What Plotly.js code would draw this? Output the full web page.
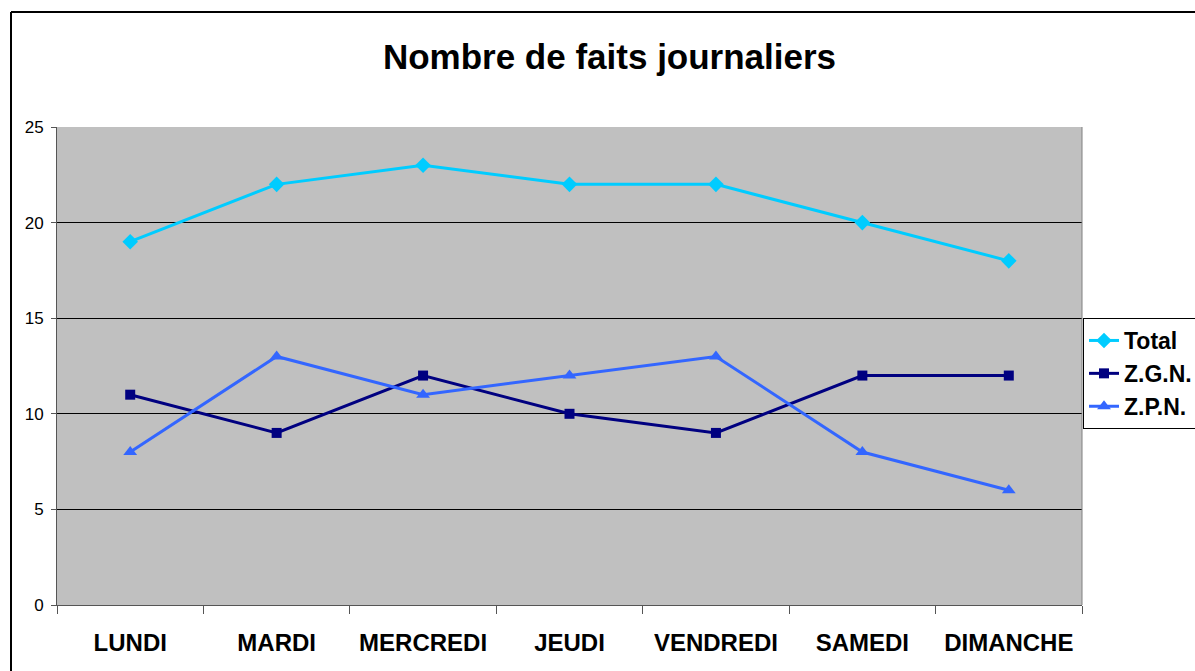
<!DOCTYPE html>
<html><head><meta charset="utf-8">
<script src="https://cdn.plot.ly/plotly-3.0.1.min.js"></script>
<style>html,body{margin:0;padding:0;background:#fff}#c{width:1195px;height:671px}</style>
</head><body><div id="c"></div>
<script>
const days = ["LUNDI","MARDI","MERCREDI","JEUDI","VENDREDI","SAMEDI","DIMANCHE"];
const total = [19,22,23,22,22,20,18];
const zgn = [11,9,12,10,9,12,12];
const zpn = [8,13,11,12,13,8,6];

const L = 57, R = 1082, T = 127, B = 605;
const pw = R - L, ph = B - T;
const px = v => (v - L) / pw;
const py = v => (B - v) / ph;

const traces = [
  {x: days, y: total, name: "Total", type: "scatter", mode: "lines+markers",
   line: {color: "#00CCFF", width: 3}, marker: {symbol: "diamond", size: 12, color: "#00CCFF"}},
  {x: days, y: zgn, name: "Z.G.N.", type: "scatter", mode: "lines+markers",
   line: {color: "#000080", width: 3}, marker: {symbol: "square", size: 10, color: "#000080"}},
  {x: days, y: zpn, name: "Z.P.N.", type: "scatter", mode: "lines+markers",
   line: {color: "#3366FF", width: 3}, marker: {symbol: "triangle-up", size: 12, color: "#3366FF"}}
];

const layout = {
  width: 1195, height: 671,
  margin: {l: L, r: 1195 - R, t: T, b: 671 - B, pad: 0, autoexpand: false},
  paper_bgcolor: "#ffffff", plot_bgcolor: "#C0C0C0",
  font: {family: "Liberation Sans, Arial, sans-serif", color: "#000"},
  title: {text: "<b>Nombre de faits journaliers</b>", x: px(609.5), xref: "paper", xanchor: "center",
          y: 1 - 57/671, yanchor: "middle", font: {size: 35, color: "#000"}},
  showlegend: true,
  legend: {x: px(1083), xanchor: "left", y: py(318), yanchor: "top",
           bordercolor: "#000", borderwidth: 1, bgcolor: "#fff",
           font: {size: 23, color: "#000", weight: "bold"}, itemwidth: 30},
  xaxis: {type: "category", range: [-0.5, 6.5], tickson: "boundaries", ticks: "outside", ticklen: 8,
          tickcolor: "#555", linecolor: "#555", linewidth: 1, showline: true, showgrid: false,
          tickfont: {size: 24, color: "#000", weight: "bold"}, ticklabelstandoff: 16, zeroline: false, fixedrange: true},
  yaxis: {range: [0, 25], dtick: 5, tick0: 0, ticks: "outside", ticklen: 5, tickcolor: "#555",
          showline: true, linecolor: "#555", linewidth: 1, showgrid: true, gridcolor: "#000", gridwidth: 1,
          zeroline: false, tickfont: {size: 17, color: "#000"}, ticklabelstandoff: 4, fixedrange: true},
  shapes: [
    {type: "line", xref: "paper", yref: "paper", x0: 1, x1: 1, y0: 0, y1: 1, line: {color: "#808080", width: 1}},
    {type: "line", xref: "paper", yref: "paper", x0: px(11), x1: px(1196), y0: py(12), y1: py(12), line: {color: "#000", width: 2}},
    {type: "line", xref: "paper", yref: "paper", x0: px(11), x1: px(11), y0: py(12), y1: py(672), line: {color: "#000", width: 2}}
  ]
};
Plotly.newPlot("c", traces, layout, {displayModeBar: false, staticPlot: true});
</script></body></html>
